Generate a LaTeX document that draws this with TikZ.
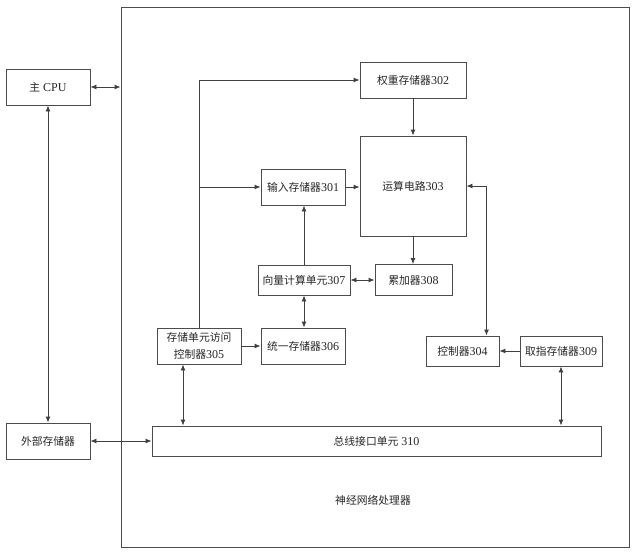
\documentclass[tikz,border=0pt]{standalone}
\usepackage{fontspec}
\setmainfont{Liberation Serif}
\newfontfamily\cjk{Noto Sans CJK SC}[Scale=0.9]
\usetikzlibrary{arrows.meta,calc}
\newcommand{\zh}[1]{{\cjk #1}}
\begin{document}
\begin{tikzpicture}[>={Latex[length=6pt,width=5pt]}, x=1pt, y=-1pt, font=\fontsize{12}{16.5}\selectfont]
    % 通用样式
    \tikzstyle{blk} = [draw=black!70, line width=0.9pt, minimum height=36pt, inner sep=2pt, align=center, text=black!85]
    \tikzstyle{arr} = [->, draw=black!75, line width=0.9pt]
    \tikzstyle{dbl} = [<->, draw=black!75, line width=0.9pt]
    \useasboundingbox (0,0) rectangle (635,554);

    % ================= 外部部分 =================
    \node[blk, minimum width=84pt] (cpu) at (48,87) {\zh{主} CPU};
    \node[blk, minimum width=84pt] (ext) at (48,441) {\zh{外部存储器}};

    % 处理器外框
    \node[blk, minimum width=508pt, minimum height=540pt] (npu) at (375,277) {};
    \node[text=black!85] (npulabel) at (373,500) {\zh{神经网络处理器}};

    % ================= 处理器内部 =================
    \node[blk, minimum width=106pt] (w302) at (413,80) {\zh{权重存储器}302};
    \node[blk, minimum width=106pt, minimum height=100pt] (alu303) at (413,186) {\zh{运算电路}303};
    \node[blk, minimum width=84pt] (in301) at (303,187) {\zh{输入存储器}301};
    \node[blk, minimum width=92pt, minimum height=30pt] (vec307) at (304,280) {\zh{向量计算单元}307};
    \node[blk, minimum width=77pt, minimum height=31pt] (acc308) at (413.5,280) {\zh{累加器}308};
    \node[blk, minimum width=84pt] (mem306) at (303,346) {\zh{统一存储器}306};
    \node[blk, minimum width=84pt] (dma305) at (199,346) {\zh{存储单元访问}\\\zh{控制器}305};
    \node[blk, minimum width=73pt, minimum height=30pt] (ctl304) at (462.5,351) {\zh{控制器}304};
    \node[blk, minimum width=82pt, minimum height=30pt] (ifm309) at (561,351) {\zh{取指存储器}309};
    \node[blk, minimum width=449pt, minimum height=30pt] (bus310) at (376.5,441) {\zh{总线接口单元} 310};

    % ================= 连接 =================
    \draw[dbl] (cpu.east) -- (cpu.east -| npu.west);
    \draw[dbl] (cpu.south) -- (ext.north);
    \draw[dbl] (ext.east) -- (bus310.west);

    \draw[arr] (dma305.north) |- (w302.west);
    \draw[arr] (dma305.north |- in301.west) -- (in301.west);
    \draw[arr] (in301.east) -- (in301.east -| alu303.west);
    \draw[arr] (w302.south) -- (alu303.north);
    \draw[arr] (alu303.south) -- (acc308.north -| alu303.south);
    \draw[arr] (vec307.north) -- (vec307.north |- in301.south);
    \draw[dbl] (vec307.east) -- (vec307.east -| acc308.west);
    \draw[dbl] (vec307.south) -- (vec307.south |- mem306.north);
    \draw[arr] (dma305.east) -- (mem306.west);
    \draw[dbl] ([xshift=-16pt]dma305.south) -- ([xshift=-16pt]dma305.south |- bus310.north);

    % 运算电路与控制器
    \draw[dbl] (alu303.east) -| ([xshift=24pt]ctl304.north);
    \draw[arr] (ifm309.west) -- (ctl304.east);
    \draw[dbl] (ifm309.south) -- (ifm309.south |- bus310.north);

\end{tikzpicture}
\end{document}
